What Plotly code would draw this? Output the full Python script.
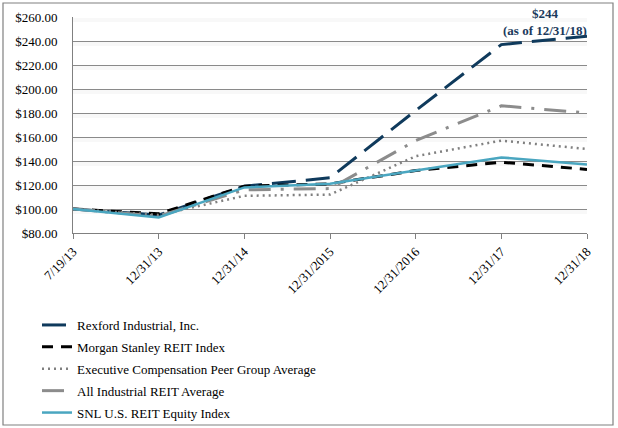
import plotly.graph_objects as go

dates = ["7/19/13", "12/31/13", "12/31/14", "12/31/2015", "12/31/2016", "12/31/17", "12/31/18"]
rexford = [100, 95, 119, 126, 182, 237, 244]
morgan = [100, 96, 119, 121, 132, 139, 133]
peer = [100, 95, 111, 112, 144, 157, 150]
industrial = [100, 94, 116, 117, 157, 186, 180]
snl = [100, 93, 118, 121, 132, 143, 137]
y_ticks = [80, 100, 120, 140, 160, 180, 200, 220, 240, 260]

FONT = "Liberation Serif"
fig = go.Figure()

# faint shadow band under each gridline
for v in y_ticks[1:]:
    fig.add_shape(type="rect", xref="paper", yref="y", ysizemode="pixel", yanchor=v,
                  x0=0, x1=1, y0=-1, y1=-5, line=dict(width=0),
                  fillcolor="#f8f8f8", layer="below")

series = [
    ("Rexford Industrial, Inc.", rexford, "#0f3a5c", "24px,10px", 3),
    ("Morgan Stanley REIT Index", morgan, "#000000", "11px,8px", 3),
    ("Executive Compensation Peer Group Average", peer, "#808080", "2px,4px", 2.5),
    ("All Industrial REIT Average", industrial, "#8c8c8c", "22px,10px,3px,10px", 3),
    ("SNL U.S. REIT Equity Index", snl, "#4aa6c0", "solid", 2.5),
]
for i, (name, vals, color, dash, w) in enumerate(series):
    fig.add_trace(go.Scatter(x=dates, y=vals, name=name, mode="lines", legendgroup=str(i),
                             line=dict(color=color, dash=dash, width=w)))

fig.add_annotation(x=dates[-1], y=rexford[-1], xref="x", yref="y",
                   text="<b>$244</b><br><b>(as of 12/31/18)</b>", showarrow=False,
                   xanchor="center", yanchor="bottom", xshift=-42, yshift=-4,
                   font=dict(family=FONT, size=13, color="#1b3a5c"), align="center")

# outer border of the chart
fig.add_shape(type="rect", xref="paper", yref="paper",
              x0=(3 - 73) / 514, x1=(613 - 73) / 514, y0=(233 - 425) / 216, y1=(233 - 3) / 216,
              line=dict(color="#808080", width=1.2), fillcolor="rgba(0,0,0,0)")

fig.update_layout(
    width=618, height=428,
    margin=dict(l=73, r=31, t=17, b=195, autoexpand=False),
    paper_bgcolor="white", plot_bgcolor="white",
    font=dict(family=FONT, size=13, color="black"),
    showlegend=True,
    legend=dict(xref="container", yref="container", x=37 / 618, y=1 - 310 / 428,
                xanchor="left", yanchor="top",
                font=dict(family=FONT, size=13, color="black"),
                tracegroupgap=2, itemwidth=30, bgcolor="rgba(0,0,0,0)"),
    xaxis=dict(type="category", range=[0, 6], tickangle=-45, automargin=False,
               showline=True, linecolor="#808080", linewidth=1,
               ticks="outside", ticklen=5, tickcolor="#808080",
               showgrid=False, tickfont=dict(family=FONT, size=13)),
    yaxis=dict(range=[80, 260], tickvals=y_ticks, automargin=False,
               ticktext=["$%.2f" % v for v in y_ticks],
               showline=True, linecolor="#808080", linewidth=1, ticklabelstandoff=12,
               showgrid=True, gridcolor="#8a8a8a", gridwidth=1,
               zeroline=False, tickfont=dict(family=FONT, size=13)),
)
fig.write_html("out.html", config={"displayModeBar": False},
               post_script="document.body.style.margin='0px';")
